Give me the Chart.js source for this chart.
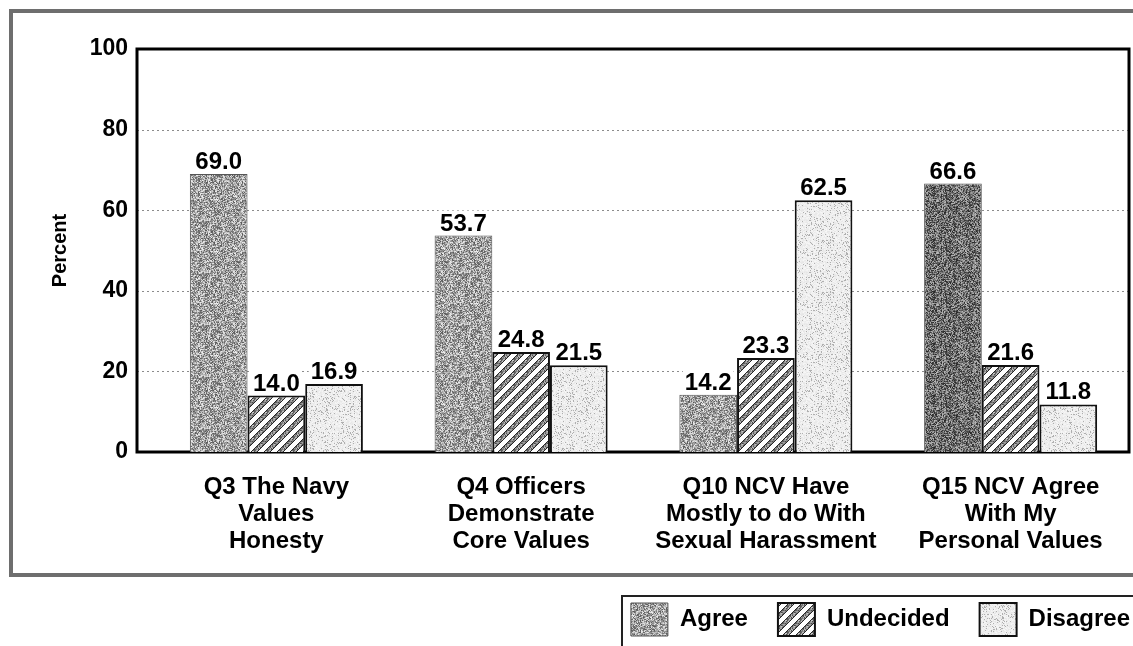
<!DOCTYPE html>
<html>
<head>
<meta charset="utf-8">
<script src="https://cdn.jsdelivr.net/npm/chart.js@4/dist/chart.umd.min.js"></script>
<style>
  html, body { margin: 0; padding: 0; background: #fff; }
</style>
</head>
<body>
<canvas id="chart" width="1133" height="646"></canvas>
<script>
// data
const categories = [
  ['Q3 The Navy', 'Values', 'Honesty'],
  ['Q4 Officers', 'Demonstrate', 'Core Values'],
  ['Q10 NCV Have', 'Mostly to do With', 'Sexual Harassment'],
  ['Q15 NCV Agree', 'With My', 'Personal Values']
];
const seriesNames = ['Agree', 'Undecided', 'Disagree'];
const agreeValues = [69.0, 53.7, 14.2, 66.6];
const undecidedValues = [14.0, 24.8, 23.3, 21.6];
const disagreeValues = [16.9, 21.5, 62.5, 11.8];
const yTickValues = [0, 20, 40, 60, 80, 100];

const FONT = '"Liberation Sans", Arial, Helvetica, sans-serif';

// fixed pseudo grain so the fills look like the scanned print
function grain(x, y, seed) {
  const s = Math.sin(x * 12.9898 + y * 78.233 + seed * 37.719) * 43758.5453;
  return s - Math.floor(s);
}

function makeTile(size, pixelFn) {
  const c = document.createElement('canvas');
  c.width = size; c.height = size;
  const tctx = c.getContext('2d');
  const img = tctx.createImageData(size, size);
  for (let y = 0; y < size; y++) {
    for (let x = 0; x < size; x++) {
      let v = Math.max(0, Math.min(255, Math.round(pixelFn(x, y))));
      const i = (y * size + x) * 4;
      img.data[i] = v; img.data[i + 1] = v; img.data[i + 2] = v; img.data[i + 3] = 255;
    }
  }
  tctx.putImageData(img, 0, 0);
  return document.createElement('canvas').getContext('2d').createPattern(c, 'repeat');
}

const agreeFill = makeTile(52, (x, y) => 162 + (grain(x, y, 1) - 0.5) * 150);
const agreeDarkFill = makeTile(52, (x, y) => 112 + (grain(x, y, 2) - 0.5) * 150);
const disagreeFill = makeTile(52, (x, y) => {
  const g = grain(x, y, 3);
  return g > 0.86 ? 175 : 240 + (g - 0.5) * 20;
});
const undecidedFill = makeTile(13, (x, y) => {
  const t = (x + y) % 13;
  if (t === 0 || t === 6) return 40;
  if (t < 6) return 135 + (grain(x, y, 4) - 0.5) * 130;
  return 255;
});

const framePlugin = {
  id: 'frame',
  beforeDraw(chart) {
    const ctx = chart.ctx;
    ctx.save();
    ctx.fillStyle = '#fff';
    ctx.fillRect(0, 0, chart.width, chart.height);
    // outer border of the scanned page
    ctx.strokeStyle = '#6e6e6e';
    ctx.lineWidth = 4;
    ctx.beginPath();
    ctx.moveTo(chart.width, 11);
    ctx.lineTo(11, 11);
    ctx.lineTo(11, 575);
    ctx.lineTo(chart.width, 575);
    ctx.stroke();
    ctx.restore();
  },
  afterLayout(chart) {
    // legend box sits flush against the right edge
    chart.legend.left += 27;
    chart.legend.right += 27;
  },
  beforeDatasetsDraw(chart) {
    const {ctx, chartArea, scales: {y}} = chart;
    const left = chartArea.left - 17;
    const right = chartArea.right - 4;
    const top = y.getPixelForValue(100);
    const bottom = y.getPixelForValue(0);
    ctx.save();
    ctx.strokeStyle = '#8c8c8c';
    ctx.lineWidth = 1;
    ctx.setLineDash([2, 3]);
    y.ticks.forEach(t => {
      if (t.value <= 0 || t.value >= 100) return;
      const py = Math.round(y.getPixelForValue(t.value)) + 0.5;
      ctx.beginPath();
      ctx.moveTo(left, py);
      ctx.lineTo(right, py);
      ctx.stroke();
    });
    ctx.setLineDash([]);
    ctx.strokeStyle = '#000';
    ctx.lineWidth = 3;
    ctx.strokeRect(left, top, right - left, bottom - top);
    ctx.restore();
  },
  afterDatasetsDraw(chart) {
    const ctx = chart.ctx;
    ctx.save();
    ctx.font = 'bold 24px ' + FONT;
    ctx.textAlign = 'center';
    ctx.textBaseline = 'alphabetic';
    chart.data.datasets.forEach((ds, di) => {
      chart.getDatasetMeta(di).data.forEach((bar, i) => {
        const txt = ds.data[i].toFixed(1);
        const w = ctx.measureText(txt).width;
        ctx.fillStyle = '#fff';
        ctx.fillRect(bar.x - w / 2 - 2, bar.y - 25, w + 4, 23);
        ctx.fillStyle = '#000';
        ctx.fillText(txt, bar.x, bar.y - 5);
      });
    });
    ctx.restore();
  },
  afterDraw(chart) {
    const lg = chart.legend;
    const ctx = chart.ctx;
    const x0 = Math.round(lg.right - lg.lineWidths[0]) - 9;
    const y0 = lg.top + 23;
    ctx.save();
    ctx.strokeStyle = '#222';
    ctx.lineWidth = 2;
    ctx.beginPath();
    ctx.moveTo(chart.width, y0);
    ctx.lineTo(x0, y0);
    ctx.lineTo(x0, chart.height);
    ctx.stroke();
    ctx.restore();
  }
};

new Chart(document.getElementById('chart'), {
  type: 'bar',
  data: {
    labels: categories,
    datasets: [
      {
        label: seriesNames[0],
        data: agreeValues,
        backgroundColor: [agreeFill, agreeFill, agreeFill, agreeDarkFill],
        borderColor: '#555',
        borderWidth: 1
      },
      {
        label: seriesNames[1],
        data: undecidedValues,
        backgroundColor: undecidedFill,
        borderColor: '#111',
        borderWidth: 2
      },
      {
        label: seriesNames[2],
        data: disagreeValues,
        backgroundColor: disagreeFill,
        borderColor: '#111',
        borderWidth: 2
      }
    ]
  },
  options: {
    responsive: false,
    animation: false,
    layout: { padding: { top: 49, left: 0, right: 0, bottom: 0 } },
    datasets: {
      bar: { barPercentage: 1, categoryPercentage: 0.707, borderSkipped: 'bottom' }
    },
    scales: {
      x: {
        grid: { display: false },
        border: { display: false },
        ticks: {
          autoSkip: false,
          maxRotation: 0,
          padding: 14,
          color: '#000',
          font: { family: FONT, size: 24, weight: 'bold', lineHeight: 1.13 }
        },
        afterFit(scale) { scale.height = 121; }
      },
      y: {
        min: 0,
        max: 100,
        afterBuildTicks(scale) { scale.ticks = yTickValues.map(v => ({ value: v })); },
        grid: { display: false, drawTicks: false },
        border: { display: false },
        ticks: {
          padding: 26,
          color: '#000',
          font: { family: FONT, size: 23, weight: 'bold' }
        },
        title: {
          display: true,
          text: 'Percent',
          color: '#000',
          padding: { top: 48, bottom: 0 },
          font: { family: FONT, size: 20, weight: 'bold' }
        },
        afterFit(scale) { scale.width = 154; }
      }
    },
    plugins: {
      legend: {
        position: 'bottom',
        align: 'end',
        labels: {
          boxWidth: 37,
          boxHeight: 33,
          padding: 30,
          color: '#000',
          font: { family: FONT, size: 24, weight: 'bold' }
        }
      },
      tooltip: { enabled: false }
    }
  },
  plugins: [framePlugin]
});
</script>
</body>
</html>
